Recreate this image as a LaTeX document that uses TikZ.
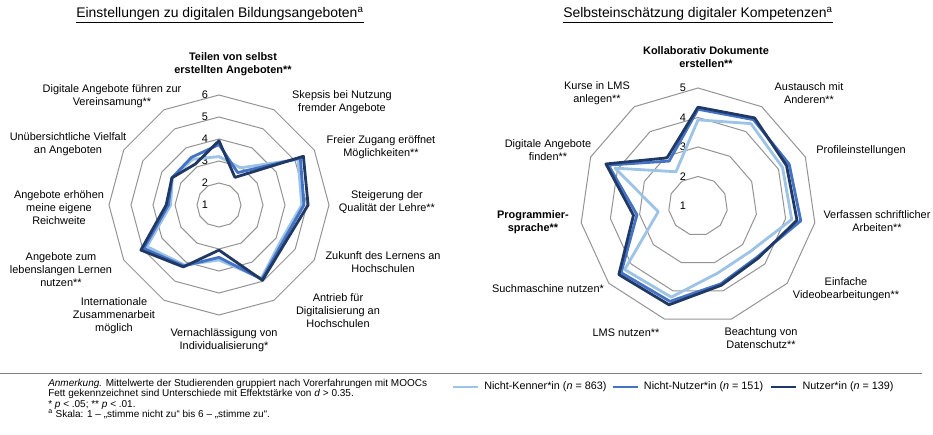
\documentclass[tikz,border=0pt]{standalone}
\usepackage{fontspec}
\setmainfont{Liberation Sans}
\usetikzlibrary{positioning}

\definecolor{nkblue}{HTML}{9DC3E6}
\definecolor{nnblue}{HTML}{4472C4}
\definecolor{nublue}{HTML}{1F3864}

% Mittelwerte (Achse 0 = oben, dann im Uhrzeigersinn)
\def\einNK{3.2,2.95,5.15,4.76,4.25,4.85,3.5,4.15,4.78,3.2,3.45,3.4}
\def\einNN{3.75,2.7,5.27,4.86,4.35,4.9,3.38,4.2,4.95,3.3,3.47,3.5}
\def\einNU{3.92,2.45,5.43,5.05,4.46,4.95,3.05,4.25,5.1,3.4,3.47,3.15}
\def\komNK{3.92,4.32,4.15,4.21,3.35,3.37,4.22,4.29,2.36,4.09,2.38}
\def\komNN{4.28,4.48,4.4,4.52,3.65,3.75,4.37,4.45,3.09,4.34,2.81}
\def\komNU{4.35,4.55,4.3,4.39,3.7,3.8,4.49,4.55,3.21,4.43,2.94}

\begin{document}
\begin{tikzpicture}[x=0.75pt, y=-0.75pt,
	grid/.style={draw=black!42, line width=0.75pt},
	serie/.style={line width=2.1pt, line join=round},
	ttl/.style={font=\fontsize{10.45}{12}\selectfont, inner sep=0pt},
	lbl/.style={align=center, font=\fontsize{8.2}{9.75}\selectfont, inner sep=0pt},
	num/.style={font=\fontsize{8.2}{9.75}\selectfont, inner sep=0pt},
	note/.style={align=left, font=\fontsize{7.5}{7.9}\selectfont, inner sep=0pt, anchor=north west},
	leg/.style={font=\fontsize{8.1}{9}\selectfont, inner sep=0pt, anchor=west}
	]
	\fill[white] (0,0) rectangle (933,435);
	\useasboundingbox (0,0) rectangle (933,435);
	
	% Titel
	\node[ttl] (t1) at (220,15) {\underline{Einstellungen zu digitalen Bildungsangeboten\textsuperscript{a}}};
	\node[ttl] (t2) at (698,15) {\underline{Selbsteinschätzung digitaler Kompetenzen\textsuperscript{a}}};
	
	% linkes Netz (12 Achsen, Skala 1-6)
	\begin{scope}[shift={(219,205)}]
		\foreach \v in {2,...,6}
			\draw[grid] (-90:{(\v-1)*22}) \foreach \k in {1,...,11} {-- ({\k*30-90}:{(\v-1)*22})} -- cycle;
		\foreach \v [count=\k from 0] in \einNK \coordinate (enk\k) at ({\k*30-90}:{(\v-1)*22});
		\foreach \v [count=\k from 0] in \einNN \coordinate (enn\k) at ({\k*30-90}:{(\v-1)*22});
		\foreach \v [count=\k from 0] in \einNU \coordinate (enu\k) at ({\k*30-90}:{(\v-1)*22});
		\foreach \v in {1,...,6}
			\node[num] (ein\v) at (-14,{-(\v-1)*22}) {\v};
	\end{scope}
	\draw[serie, nkblue] (enk0) \foreach \k in {1,...,11} {-- (enk\k)} -- cycle;
	\draw[serie, nnblue] (enn0) \foreach \k in {1,...,11} {-- (enn\k)} -- cycle;
	\draw[serie, nublue] (enu0) \foreach \k in {1,...,11} {-- (enu\k)} -- cycle;
	
	\node[lbl] (e0) at (233,64) {\textbf{Teilen von selbst}\\\textbf{erstellten Angeboten**}};
	\node[lbl] (e1) at (342,102) {Skepsis bei Nutzung\\fremder Angebote};
	\node[lbl] (e2) at (381,147) {Freier Zugang eröffnet\\Möglichkeiten**};
	\node[lbl] (e3) at (387,202) {Steigerung der\\Qualität der Lehre**};
	\node[lbl] (e4) at (383,262) {Zukunft des Lernens an\\Hochschulen};
	\node[lbl] (e5) at (338,311) {Antrieb für\\Digitalisierung an\\Hochschulen};
	\node[lbl] (e6) at (224,340) {Vernachlässigung von\\Individualisierung*};
	\node[lbl] (e7) at (114,316) {Internationale\\Zusammenarbeit\\möglich};
	\node[lbl] (e8) at (61,270) {Angebote zum\\lebenslangen Lernen\\nutzen**};
	\node[lbl] (e9) at (59,208) {Angebote erhöhen\\meine eigene\\Reichweite};
	\node[lbl] (e10) at (68,144) {Unübersichtliche Vielfalt\\an Angeboten};
	\node[lbl] (e11) at (112,96) {Digitale Angebote führen zur\\Vereinsamung**};
	
	% rechtes Netz (11 Achsen, Skala 1-5)
	\begin{scope}[shift={(698,206)}]
		\foreach \v in {2,...,5}
			\draw[grid] (-90:{(\v-1)*29.5}) \foreach \k in {1,...,10} {-- ({\k*360/11-90}:{(\v-1)*29.5})} -- cycle;
		\foreach \v [count=\k from 0] in \komNK \coordinate (knk\k) at ({\k*360/11-90}:{(\v-1)*29.5});
		\foreach \v [count=\k from 0] in \komNN \coordinate (knn\k) at ({\k*360/11-90}:{(\v-1)*29.5});
		\foreach \v [count=\k from 0] in \komNU \coordinate (knu\k) at ({\k*360/11-90}:{(\v-1)*29.5});
		\foreach \v in {1,...,5}
			\node[num] (kom\v) at (-15,{-(\v-1)*29.5}) {\v};
	\end{scope}
	\draw[serie, nkblue] (knk0) \foreach \k in {1,...,10} {-- (knk\k)} -- cycle;
	\draw[serie, nnblue] (knn0) \foreach \k in {1,...,10} {-- (knn\k)} -- cycle;
	\draw[serie, nublue] (knu0) \foreach \k in {1,...,10} {-- (knu\k)} -- cycle;
	
	\node[lbl] (k0) at (706,57) {\textbf{Kollaborativ Dokumente}\\\textbf{erstellen**}};
	\node[lbl] (k1) at (809,93) {Austausch mit\\Anderen**};
	\node[lbl] (k2) at (861,151) {Profileinstellungen};
	\node[lbl] (k3) at (877,221) {Verfassen schriftlicher\\Arbeiten**};
	\node[lbl] (k4) at (846,289) {Einfache\\Videobearbeitungen**};
	\node[lbl] (k5) at (761,338) {Beachtung von\\Datenschutz**};
	\node[lbl] (k6) at (626,333) {LMS nutzen**};
	\node[lbl] (k7) at (548,289) {Suchmaschine nutzen*};
	\node[lbl] (k8) at (533,222) {\textbf{Programmier-}\\\textbf{sprache**}};
	\node[lbl] (k9) at (548,150) {Digitale Angebote\\finden**};
	\node[lbl] (k10) at (597,93) {Kurse in LMS\\anlegen**};
	
	% Trennlinie
	\coordinate (ruleL) at (0,373);
	\coordinate (ruleR) at (922,373);
	\draw[black!50, line width=0.75pt] (ruleL) -- (ruleR);
	
	% Anmerkung
	\node[note] (anm) at (48,378.5) {\textit{Anmerkung.} Mittelwerte der Studierenden gruppiert nach Vorerfahrungen mit MOOCs\\
		Fett gekennzeichnet sind Unterschiede mit Effektstärke von \textit{d} > 0.35.\\
		* \textit{p} < .05; ** \textit{p} < .01.\\
		\textsuperscript{a} Skala: 1 – „stimme nicht zu“ bis 6 – „stimme zu“.};
	
	% Legende
	\coordinate (nk1) at (453,387);
	\coordinate (nk2) at (478,387);
	\draw[serie, nkblue] (nk1) -- (nk2);
	\node[leg, right=4.5pt of nk2] (lgNK) {Nicht-Kenner*in (\textit{n} = 863)};
	\coordinate[right=4.5pt of lgNK] (nn1);
	\coordinate[right=18.75pt of nn1] (nn2);
	\draw[serie, nnblue] (nn1) -- (nn2);
	\node[leg, right=4.5pt of nn2] (lgNN) {Nicht-Nutzer*in (\textit{n} = 151)};
	\coordinate[right=6pt of lgNN] (nu1);
	\coordinate[right=18.75pt of nu1] (nu2);
	\draw[serie, nublue] (nu1) -- (nu2);
	\node[leg, right=4.5pt of nu2] (lgNU) {Nutzer*in (\textit{n} = 139)};
\end{tikzpicture}
\end{document}
